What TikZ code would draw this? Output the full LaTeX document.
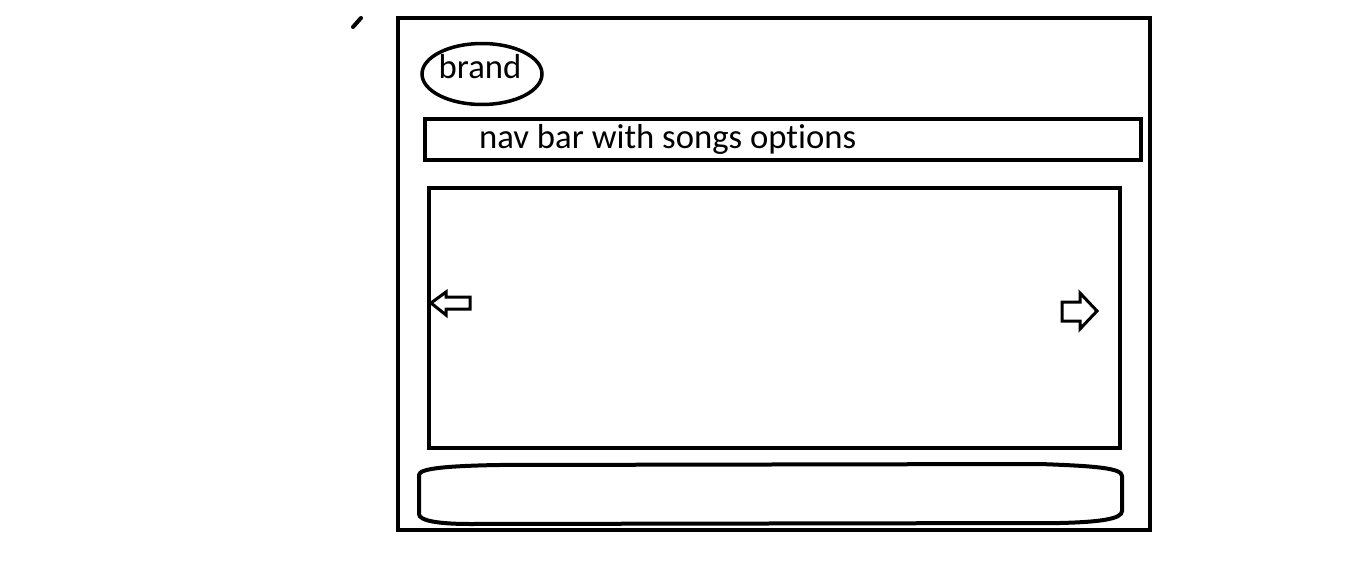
\documentclass[tikz,border=0pt]{standalone}
\usepackage{fontspec}
\setmainfont{Carlito}[Ligatures={NoCommon}]
\usetikzlibrary{shapes.geometric}

\tikzset{
  wire/.style={black, line width=4pt},
  pointer/.style={black, line width=3pt, line join=miter},
}

\begin{document}
\begin{tikzpicture}[x=1pt, y=-1pt, every node/.style={font=\fontsize{34.7}{40}\selectfont, inner sep=0pt}]
    \useasboundingbox (0,0) rectangle (1360,562);
    % stray pen mark
    \draw[black, line width=4pt, line cap=round] (353,27) -- (361,18);
    % page frame
    \draw[wire] (398,18) rectangle (1150,530);

    % brand logo
    \node[draw, ellipse, line width=3.5pt, minimum width=120, minimum height=61] (brand) at (482,74) {};
    \node[anchor=base] (brandtext) at (480,78) {brand};

    % nav bar
    \draw[wire] (425,119) rectangle (1141,160);
    \node[anchor=base west] (navtext) at (479,148) {nav bar with songs options};

    % carousel with its two arrows
    \draw[wire] (429,188) rectangle (1120,448);
    \draw[pointer] (470,297) -- (446,297) -- (446,292) -- (431,303) -- (446,315) -- (446,309) -- (470,309) -- cycle;
    \draw[pointer] (1062,302) -- (1080,302) -- (1080,293) -- (1097,311) -- (1080,329) -- (1080,321) -- (1062,321) -- cycle;

    % footer
    \draw[wire] (497,465) -- (1040,464) .. controls (1095,466) and (1122,468) .. (1122,476)
        -- (1122,511) .. controls (1122,519) and (1100,522) .. (1060,523)
        -- (470,524) .. controls (440,524) and (419,521) .. (419,514)
        -- (419,475) .. controls (419,468) and (450,466) .. (497,465) -- cycle;
\end{tikzpicture}
\end{document}
